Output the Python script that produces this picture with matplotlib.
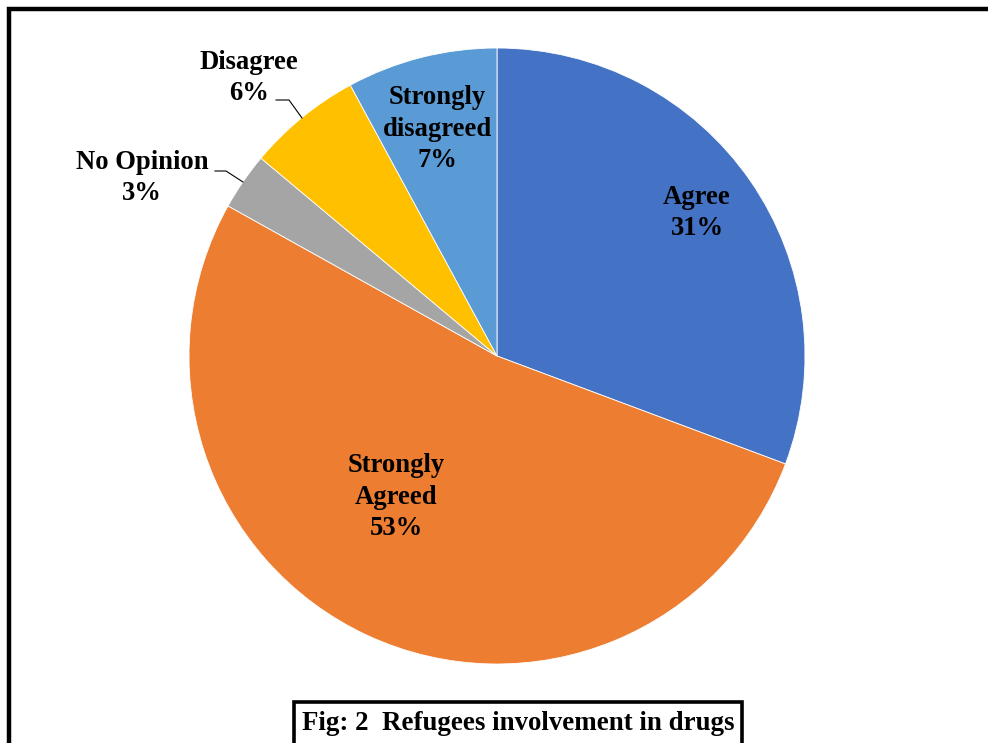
import matplotlib
matplotlib.use("Agg")
import matplotlib.pyplot as plt
from matplotlib.patches import Rectangle
import numpy as np

categories = ["Agree", "Strongly\nAgreed", "No Opinion", "Disagree", "Strongly\ndisagreed"]
values = [30.7, 52.4, 3.0, 6.0, 7.9]          # slice sizes as drawn
label_pct = [31, 53, 3, 6, 7]                 # percentages printed on labels
colors = ["#4472C4", "#ED7D31", "#A5A5A5", "#FFC000", "#5B9BD5"]
title_text = "Fig: 2  Refugees involvement in drugs"

plt.rcParams['font.family'] = ['Liberation Serif', 'DejaVu Serif']

W, H = 988, 743
fig = plt.figure(figsize=(W / 100, H / 100), dpi=100)
cx, cy, r = 497, 356, 308
ax = fig.add_axes([(cx - r) / W, (H - cy - r) / H, 2 * r / W, 2 * r / H])
wedges, _ = ax.pie(values, colors=colors, startangle=90, counterclock=False,
                   wedgeprops=dict(edgecolor="white", linewidth=0.6), radius=1)
ax.set_xlim(-1, 1)
ax.set_ylim(-1, 1)
ax.set_aspect('auto')
ax.axis('off')

fs = 19.2
ls = 1.33
labels = [f"{c}\n{v}%" for c, v in zip(categories, label_pct)]

def px(x, y):
    return ((x - cx) / r, (cy - y) / r)

# inside labels
inside = {0: (697, 213), 1: (396, 497), 4: (437, 129)}
for i, (x, y) in inside.items():
    ax.text(*px(x, y), labels[i], ha='center', va='center', fontsize=fs,
            fontweight='bold', linespacing=ls)

# outside labels with leader lines
outside = {2: ((142, 178), [(215, 171), (226, 171), (243, 182)]),
           3: ((249, 78), [(276, 100), (289, 100), (302, 118)])}
for i, ((x, y), pts) in outside.items():
    ax.text(*px(x, y), labels[i], ha='center', va='center', fontsize=fs,
            fontweight='bold', linespacing=ls)
    p = np.array([px(a, b) for a, b in pts])
    ax.plot(p[:, 0], p[:, 1], color='black', lw=0.8, clip_on=False)

# outer frame
fig.patches.append(Rectangle((8.5 / W, -0.2), 1.2, (H - 9) / H + 0.2,
                             transform=fig.transFigure, fill=False,
                             edgecolor='black', lw=3.2, figure=fig))
# title box
fig.patches.append(Rectangle((293.5 / W, -0.05), (742 - 293.5) / W, (H - 702) / H + 0.05,
                             transform=fig.transFigure, fill=False,
                             edgecolor='black', lw=2.6, figure=fig))
fig.text((293.5 + 742) / 2 / W, (H - 724) / H, title_text, ha='center', va='center',
         fontsize=19.4, fontweight='bold')

fig.savefig("out.png", dpi=100)
